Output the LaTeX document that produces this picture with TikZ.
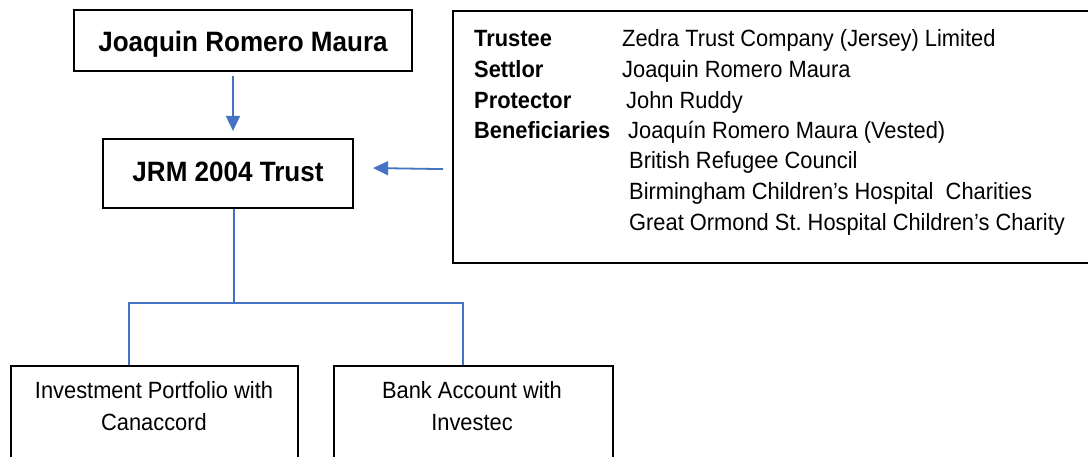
\documentclass[tikz,border=0pt]{standalone}
\usepackage{fontspec}
\setmainfont{Liberation Sans}[FakeStretch=0.93]
\usetikzlibrary{arrows.meta}
\definecolor{linkblue}{HTML}{4472C4}
\frenchspacing
\begin{document}
\begin{tikzpicture}[x=1pt,y=-1pt,
  box/.style={draw=black,line width=2.2pt,inner sep=0pt},
  arr/.style={draw=linkblue,line width=1.8pt,-{Triangle[length=15pt,width=14pt]}},
  tree/.style={draw=linkblue,line width=1.1pt},
  big/.style={font=\fontsize{28}{32}\selectfont\bfseries},
  lab/.style={font=\fontsize{23.5}{27}\selectfont\bfseries,anchor=base west,inner sep=0pt},
  val/.style={font=\fontsize{23.5}{27}\selectfont,anchor=base west,inner sep=0pt},
  small/.style={font=\fontsize{23.5}{27}\selectfont,anchor=base,inner sep=0pt}]
\useasboundingbox (0,0) rectangle (1088,456);
\fill[white] (0,0) rectangle (1088,456);
% top boxes
\node[box,big,minimum width=338pt,text height=41pt,text depth=20pt] (jrm) at (243,40.5) {Joaquin Romero Maura};
\node[box,big,minimum width=250pt,text height=42pt,text depth=27pt] (trust) at (228,173.5) {JRM 2004 Trust};
% info box
\node[box,minimum width=648pt,minimum height=252pt,anchor=north west] (info) at (452,10) {};
\node[lab] (l1) at (474,46) {Trustee};
\node[lab] (l2) at (474,77) {Settlor};
\node[lab] (l3) at (474,108) {Protector};
\node[lab] (l4) at (474,138) {Beneficiaries};
\node[val] (v1) at (622,46) {Zedra Trust Company (Jersey) Limited};
\node[val] (v2) at (622,77) {Joaquin Romero Maura};
\node[val] (v3) at (626,108) {John Ruddy};
\node[val] (v4) at (628,138) {Joaquín Romero Maura (Vested)};
\node[val] (v5) at (629,168) {British Refugee Council};
\node[val] (v6) at (629,199) {Birmingham Children’s Hospital\ \ Charities};
\node[val] (v7) at (629,230) {Great Ormond St.\ Hospital Children’s Charity};
% bottom boxes
\node[box,minimum width=287pt,minimum height=120pt,anchor=north west] (inv) at (10,365) {};
\node[small] (inv1) at (154,398) {Investment Portfolio with};
\node[small] (inv2) at (154,430) {Canaccord};
\node[box,minimum width=279pt,minimum height=120pt,anchor=north west] (bank) at (333,365) {};
\node[small] (bank1) at (472,398) {Bank Account with};
\node[small] (bank2) at (472,430) {Investec};
% arrows
\draw[arr] ([xshift=-10pt,yshift=-4pt]jrm.south) -- ([xshift=5pt,yshift=7pt]trust.north);
\draw[arr] ([xshift=-9pt,yshift=-32pt]info.west) -- ([xshift=19pt,yshift=5.5pt]trust.east);
% tree
\coordinate (hub) at (234,303);
\coordinate (lx) at (129,303);
\coordinate (rx) at (463,303);
\draw[tree] (trust.south -| hub) -- (hub);
\draw[tree] (inv.north -| lx) -- (lx) -- (rx) -- (bank.north -| rx);
\end{tikzpicture}
\end{document}
